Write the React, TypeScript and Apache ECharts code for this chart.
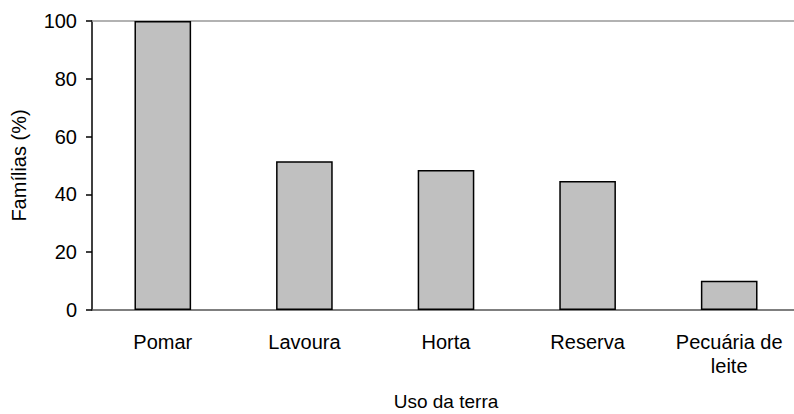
import React, { useEffect, useRef } from "react";
import * as echarts from "echarts";

const categories = ["Pomar", "Lavoura", "Horta", "Reserva", "Pecuária de\nleite"];
const values = [100, 51.5, 48.4, 44.6, 10.1];
const yTicks = [0, 20, 40, 60, 80, 100];

export default function App() {
  const ref = useRef<HTMLDivElement>(null);
  useEffect(() => {
    if (!ref.current) return;
    const chart = echarts.init(ref.current, null, { renderer: "svg" });
    const font = "'Liberation Sans', Arial, sans-serif";
    chart.setOption({
      animation: false,
      grid: {
        left: 92,
        right: -6,
        top: 21,
        bottom: 104,
        containLabel: false,
        outerBoundsMode: "none",
      },
      xAxis: [
        {
          type: "category",
          data: categories,
          axisLine: { lineStyle: { color: "#555", width: 1.5 } },
          axisTick: { show: false },
          axisLabel: {
            color: "#000",
            fontFamily: font,
            fontSize: 20,
            margin: 20,
            lineHeight: 24,
            interval: 0,
          },
          name: "Uso da terra",
          nameLocation: "middle",
          nameGap: 82,
          nameTextStyle: { color: "#000", fontFamily: font, fontSize: 19 },
        },
        {
          type: "category",
          position: "top",
          data: categories,
          axisLine: { show: true, lineStyle: { color: "#999", width: 1.5 } },
          axisTick: { show: false },
          axisLabel: { show: false },
        },
      ],
      yAxis: {
        type: "value",
        min: yTicks[0],
        max: yTicks[yTicks.length - 1],
        interval: 20,
        axisLine: { show: true, lineStyle: { color: "#000", width: 1.5 } },
        axisTick: { show: true, length: 6, lineStyle: { color: "#000", width: 1.5 } },
        splitLine: { show: false },
        axisLabel: { color: "#000", fontFamily: font, fontSize: 20, margin: 15 },
        name: "Famílias (%)",
        nameLocation: "middle",
        nameGap: 63,
        nameTextStyle: { color: "#000", fontFamily: font, fontSize: 20 },
      },
      series: [
        {
          type: "bar",
          data: values,
          barWidth: "40%",
          itemStyle: { color: "#c0c0c0", borderColor: "#000", borderWidth: 1.5 },
        },
      ],
    });
    return () => chart.dispose();
  }, []);
  return <div ref={ref} style={{ width: 794, height: 414, position: "absolute", left: 0, top: 0 }} />;
}
